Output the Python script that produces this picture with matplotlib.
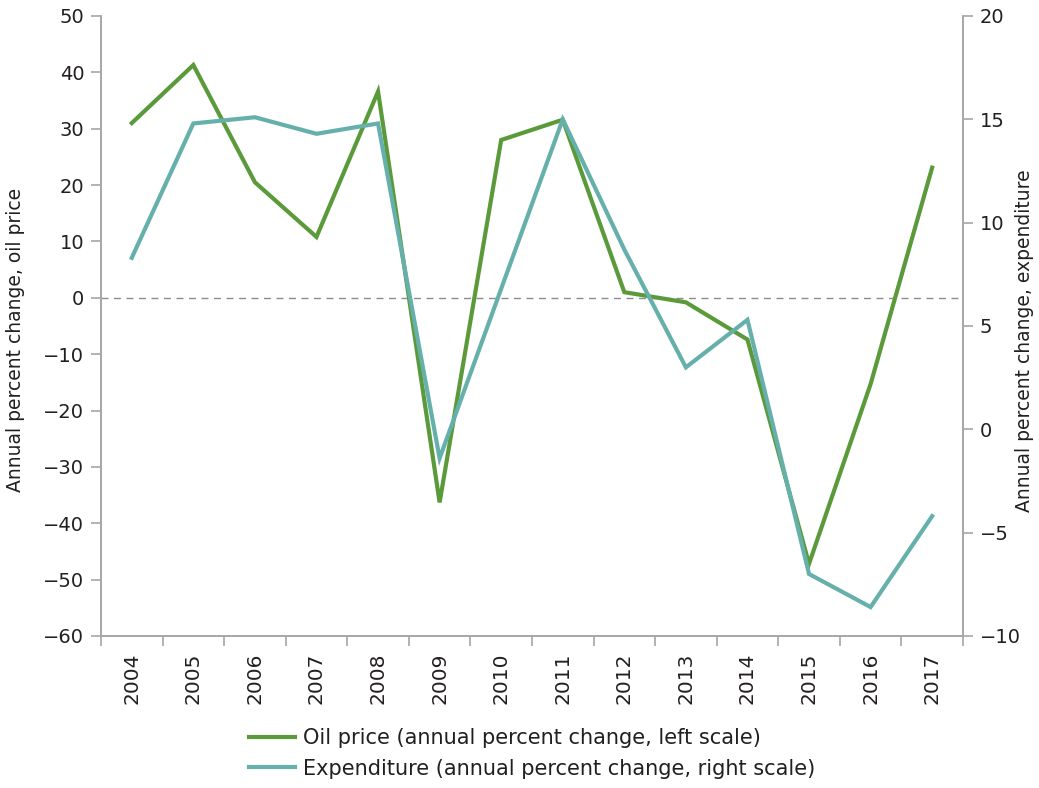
import numpy as np
import matplotlib.pyplot as plt
from matplotlib.lines import Line2D

# -------------------------------
# data
# -------------------------------
years = ["2004", "2005", "2006", "2007", "2008", "2009", "2010",
         "2011", "2012", "2013", "2014", "2015", "2016", "2017"]
oil_price = [31.0, 41.3, 20.5, 10.8, 36.6, -36.3, 28.0,
             31.6, 1.0, -0.8, -7.4, -47.2, -15.3, 23.1]
expenditure = [8.3, 14.8, 15.1, 14.3, 14.8, -1.4, 6.8,
               15.0, 8.7, 3.0, 5.3, -7.0, -8.6, -4.2]

green = "#5b9a3b"
teal = "#66b0ac"
gray = "#a6a6a6"
txt = "#231f20"

plt.rcParams["font.family"] = ["DejaVu Sans"]

fig = plt.figure(figsize=(10.39, 7.88), dpi=100)
ax = fig.add_axes([0.0972, 0.1929, 0.8296, 0.7868])
ax2 = ax.twinx()

x = np.arange(len(years))

ax.axhline(0, color="#8c8c8c", lw=1, ls=(0, (5, 4)), zorder=1)
ax.plot(x, oil_price, color=green, lw=3, solid_joinstyle="miter", zorder=3)
ax2.plot(x, expenditure, color=teal, lw=3, solid_joinstyle="miter", zorder=3)

# -------------------------------
# axes
# -------------------------------
ax.set_xlim(-0.5, len(years) - 0.5)
ax.set_ylim(-60, 50)
ax.set_yticks(np.arange(-60, 51, 10))
ax.set_yticklabels([str(v).replace("-", "\u2212") for v in range(-60, 51, 10)])
ax2.set_ylim(-10, 20)
ax2.set_yticks(np.arange(-10, 21, 5))
ax2.set_yticklabels([str(v).replace("-", "\u2212") for v in range(-10, 21, 5)])

ax.set_xticks(np.arange(-0.5, len(years), 1.0))
ax.set_xticklabels([])
ax.set_xticks(x, minor=True)
ax.set_xticklabels(years, minor=True, rotation=90)
ax.tick_params(axis="x", which="minor", length=0, pad=12,
               labelsize=14.5, labelcolor=txt)
ax.tick_params(axis="x", which="major", length=7, width=1.2, color=gray)

for a in (ax, ax2):
    a.spines["top"].set_visible(False)
    for s in ("left", "right", "bottom"):
        a.spines[s].set_color(gray)
        a.spines[s].set_linewidth(1.2)
    a.tick_params(axis="y", length=7, width=1.2, color=gray,
                  labelsize=14, labelcolor=txt, pad=5)

ax.set_ylabel("Annual percent change, oil price", fontsize=13.5, color=txt)
ax.yaxis.set_label_coords(-0.088, 0.478)
ax2.set_ylabel("Annual percent change, expenditure", fontsize=13.5, color=txt)
ax2.yaxis.set_label_coords(1.06, 0.476)

handles = [Line2D([], [], color=green, lw=3),
           Line2D([], [], color=teal, lw=3)]
fig.legend(handles,
           ["Oil price (annual percent change, left scale)",
            "Expenditure (annual percent change, right scale)"],
           loc="lower center", bbox_to_anchor=(0.512, -0.012), frameon=False,
           fontsize=15, handlelength=2.2, handletextpad=0.4, labelspacing=0.5,
           labelcolor=txt)

fig.savefig("out.png", dpi=100)
